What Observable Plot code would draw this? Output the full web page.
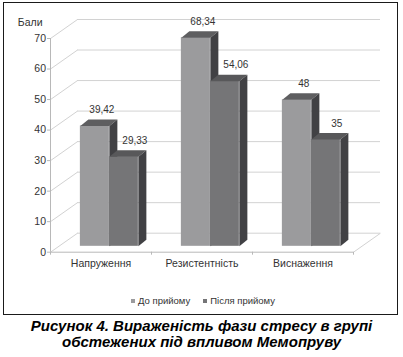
<!DOCTYPE html>
<html><head><meta charset="utf-8">
<script src="https://cdn.jsdelivr.net/npm/d3@7"></script>
<script src="https://cdn.jsdelivr.net/npm/@observablehq/plot@0.6"></script>
<style>
body{margin:0;background:#fff;}
#wrap{position:relative;width:403px;height:357px;overflow:hidden;font-family:"Liberation Sans",Arial,sans-serif;}
#chart{position:absolute;left:0;top:0;}
#frame{position:absolute;left:3px;top:2px;width:393px;height:311px;border:1.5px solid #1a1a1a;pointer-events:none;}
#legend{position:absolute;top:295px;left:0;width:403px;display:flex;justify-content:center;gap:13px;font-family:"Liberation Sans",Arial,sans-serif;font-size:9.5px;color:#333;line-height:11px;padding-left:3px;box-sizing:border-box;}
#legend span.item{display:flex;align-items:center;}
#legend i{display:inline-block;width:4px;height:4px;margin-right:3px;}
#caption{position:absolute;top:318px;left:0;width:403px;text-align:center;font:italic bold 15px/15.6px "Liberation Sans",Arial,sans-serif;color:#000;}
</style>
</head><body>
<div id="wrap">
  <div id="chart"></div>
  <div id="legend"></div>
  <div id="frame"></div>
  <div id="caption">Рисунок 4. Вираженість фази стресу в групі<br>обстежених під впливом Мемопруву</div>
</div>
<script>
const categories = ["Напруження", "Резистентність", "Виснаження"];
const seriesNames = ["До прийому", "Після прийому"];
const beforeValues = [39.42, 68.34, 48];
const afterValues = [29.33, 54.06, 35];
const yTicks = [0, 10, 20, 30, 40, 50, 60, 70];
const axisLabel = "Бали";

const frontColors = ["#9b9b9d", "#757577"];
const topColors = ["#5e5e60", "#58585a"];
const sideColor = "#414144";
const gridColor = "#d2d2d2";
const axisColor = "#b8b8b8";
const textColor = "#333";

const W = 403, H = 290, ML = 50, MR = 50, MT = 38, MB = 38.3;
const yMax = 70;
const pxX = (W - ML - MR) / categories.length;
const pxY = (H - MT - MB) / yMax;
const wallX = 27 / pxX, wallY = 19 / pxY;     // back-wall depth in data units
const frac = 0.31;                              // bars' depth position
const barW = 29 / pxX;
const depthX = 8 / pxX, depthY = 6.5 / pxY;     // bar depth
const labelShift = [3, 7];                      // px, per series

const seriesValues = [beforeValues, afterValues];
const bars = [];
categories.forEach((c, i) => {
  seriesValues.forEach((vals, s) => {
    const center = i + 0.5 + frac * wallX;
    const x1 = center + (s - 1) * barW, x2 = x1 + barW;
    const y1 = frac * wallY, y2 = y1 + vals[i];
    bars.push({cat: c, s, value: vals[i], x1, x2, y1, y2});
  });
});
const poly = (b, pts) => pts.map(([x, y]) => ({id: b.cat + "|" + b.s, x, y}));
const topPoly = b => poly(b, [[b.x1, b.y2], [b.x2, b.y2], [b.x2 + depthX, b.y2 + depthY], [b.x1 + depthX, b.y2 + depthY]]);
const sidePoly = b => poly(b, [[b.x2, b.y1], [b.x2, b.y2], [b.x2 + depthX, b.y2 + depthY], [b.x2 + depthX, b.y1 + depthY]]);

const fmt = v => String(v).replace(".", ",");

const barMarks = [];
[0, 1].forEach(s => {
  const bs = bars.filter(b => b.s === s);
  barMarks.push(
    Plot.rect(bs, {x1: "x1", x2: "x2", y1: "y1", y2: "y2", fill: frontColors[s]}),
    Plot.line(bs.flatMap(topPoly), {x: "x", y: "y", z: "id", fill: topColors[s], stroke: "none"}),
    Plot.line(bs.flatMap(sidePoly), {x: "x", y: "y", z: "id", fill: sideColor, stroke: "none"})
  );
});
const labelMarks = [0, 1].map(s =>
  Plot.text(bars.filter(b => b.s === s), {
    x: b => (b.x1 + b.x2) / 2 + depthX / 2, y: b => b.y2 + depthY,
    dx: labelShift[s], dy: -9.5, text: b => fmt(b.value), fontSize: 10, fill: textColor
  })
);

const chart = Plot.plot({
  width: W, height: H,
  marginLeft: ML, marginRight: MR, marginTop: MT, marginBottom: MB,
  x: {domain: [0, categories.length], axis: null},
  y: {domain: [0, yMax], axis: null},
  style: {background: "transparent", fontFamily: "'Liberation Sans', Arial, sans-serif"},
  marks: [
    Plot.ruleY(yTicks, {y: d => d + wallY, x1: wallX, x2: categories.length + wallX, stroke: gridColor}),
    Plot.link(yTicks, {x1: 0, y1: d => d, x2: wallX, y2: d => d + wallY, stroke: gridColor}),
    Plot.link([0], {x1: categories.length, y1: 0, x2: categories.length + wallX, y2: wallY, stroke: gridColor}),
    Plot.ruleY([0], {x1: 0, x2: categories.length, stroke: axisColor}),
    Plot.ruleX([0], {y1: 0, y2: yMax, stroke: axisColor}),
    Plot.ruleY(yTicks, {x1: -3 / pxX, x2: 0, stroke: axisColor}),
    Plot.ruleX(d3.range(categories.length + 1), {y1: 0, y2: -3 / pxY, stroke: axisColor}),
    Plot.text(yTicks, {x: 0, y: d => d, dx: -4.5, textAnchor: "end", fontSize: 10.5, fill: textColor}),
    Plot.text(categories, {x: (d, i) => i + 0.5, y: 0, dy: 11.5, fontSize: 10.5, fill: textColor}),
    Plot.text([axisLabel], {frameAnchor: "top-left", dx: -32.7, dy: -19.7, textAnchor: "start", fontSize: 10.5, fill: textColor}),
    ...barMarks,
    ...labelMarks
  ]
});
document.getElementById("chart").appendChild(chart);

const legend = document.getElementById("legend");
seriesNames.forEach((name, s) => {
  const item = document.createElement("span");
  item.className = "item";
  const sw = document.createElement("i");
  sw.style.background = frontColors[s];
  item.appendChild(sw);
  item.appendChild(document.createTextNode(name));
  legend.appendChild(item);
});
</script>
</body></html>
